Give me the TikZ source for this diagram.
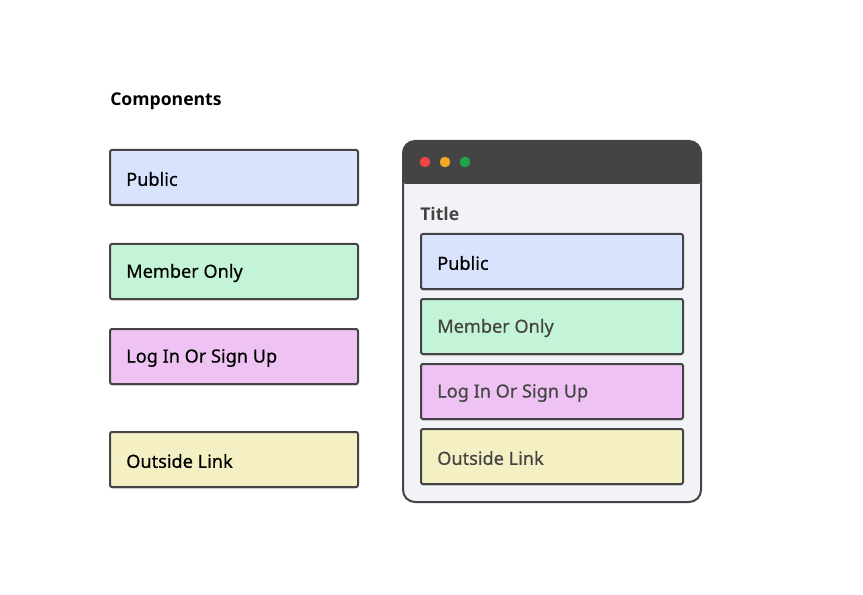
\documentclass[tikz,border=0pt]{standalone}
\usepackage{fontspec}
\setmainfont{Noto Sans}
\newfontfamily\cardfont{Noto Sans}[FakeBold=0.5]
\newfontfamily\headfont{Open Sans}
\usetikzlibrary{shadows}
\definecolor{edge}{HTML}{444444}
\definecolor{pubfill}{HTML}{DAE3FD}
\definecolor{memfill}{HTML}{C4F4D7}
\definecolor{logfill}{HTML}{EEC3F4}
\definecolor{outfill}{HTML}{F5F0C3}
\definecolor{winbody}{HTML}{F2F3F7}
\definecolor{dotred}{HTML}{F04545}
\definecolor{dotorange}{HTML}{F5A623}
\definecolor{dotgreen}{HTML}{1FA54A}
\tikzset{
  card/.style={draw=edge, line width=1.5pt, rounded corners=1.5pt, anchor=north west,
    inner sep=0pt, outer sep=0pt,
    drop shadow={shadow xshift=0pt, shadow yshift=-1.2pt, opacity=0.18, fill=black}},
  cardtext/.style={anchor=west, font=\cardfont\fontsize{13.6}{15}\selectfont, inner sep=0pt},
  headtext/.style={anchor=west, inner sep=0pt, font=\headfont\bfseries\fontsize{13.2}{15}\selectfont},
}
\begin{document}
\begin{tikzpicture}[x=0.75pt, y=-0.75pt]
\useasboundingbox (0,0) rectangle (863,595);
\fill[white] (0,0) rectangle (863,595);

\node[headtext] (comp) at (110,101.5) {Components};

% component palette
\node[card, fill=pubfill, minimum width=248*0.75pt, minimum height=55*0.75pt] (p1) at (110,150) {};
\node[card, fill=memfill, minimum width=248*0.75pt, minimum height=55*0.75pt] (m1) at (110,244) {};
\node[card, fill=logfill, minimum width=248*0.75pt, minimum height=55*0.75pt] (l1) at (110,329) {};
\node[card, fill=outfill, minimum width=248*0.75pt, minimum height=55*0.75pt] (o1) at (110,432) {};
\node[cardtext] (p1t) at (126,179) {Public};
\node[cardtext] (m1t) at (126,273) {Member Only};
\node[cardtext] (l1t) at (126,358) {Log In Or Sign Up};
\node[cardtext] (o1t) at (126,461) {Outside Link};

% browser window
\fill[winbody, rounded corners=9pt] (403,141) rectangle (701,502);
\fill[edge, rounded corners=9pt] (403,141) rectangle (701,190);
\fill[winbody] (403,184) rectangle (701,194);
\draw[edge, line width=1.5pt, rounded corners=9pt] (403,141) rectangle (701,502);
\fill[dotred] (425,162) circle (5.3);
\fill[dotorange] (445,162) circle (5.3);
\fill[dotgreen] (465,162) circle (5.3);
\node[headtext, text=edge] (title) at (420,214) {Title};

\node[card, fill=pubfill, minimum width=262*0.75pt, minimum height=55*0.75pt] (p2) at (421,234) {};
\node[card, fill=memfill, minimum width=262*0.75pt, minimum height=55*0.75pt] (m2) at (421,299) {};
\node[card, fill=logfill, minimum width=262*0.75pt, minimum height=55*0.75pt] (l2) at (421,364) {};
\node[card, fill=outfill, minimum width=262*0.75pt, minimum height=55*0.75pt] (o2) at (421,429) {};
\node[cardtext] (p2t) at (437,263) {Public};
\node[cardtext, text=edge] (m2t) at (437,328) {Member Only};
\node[cardtext, text=edge] (l2t) at (437,393) {Log In Or Sign Up};
\node[cardtext, text=edge] (o2t) at (437,458) {Outside Link};
\end{tikzpicture}
\end{document}
